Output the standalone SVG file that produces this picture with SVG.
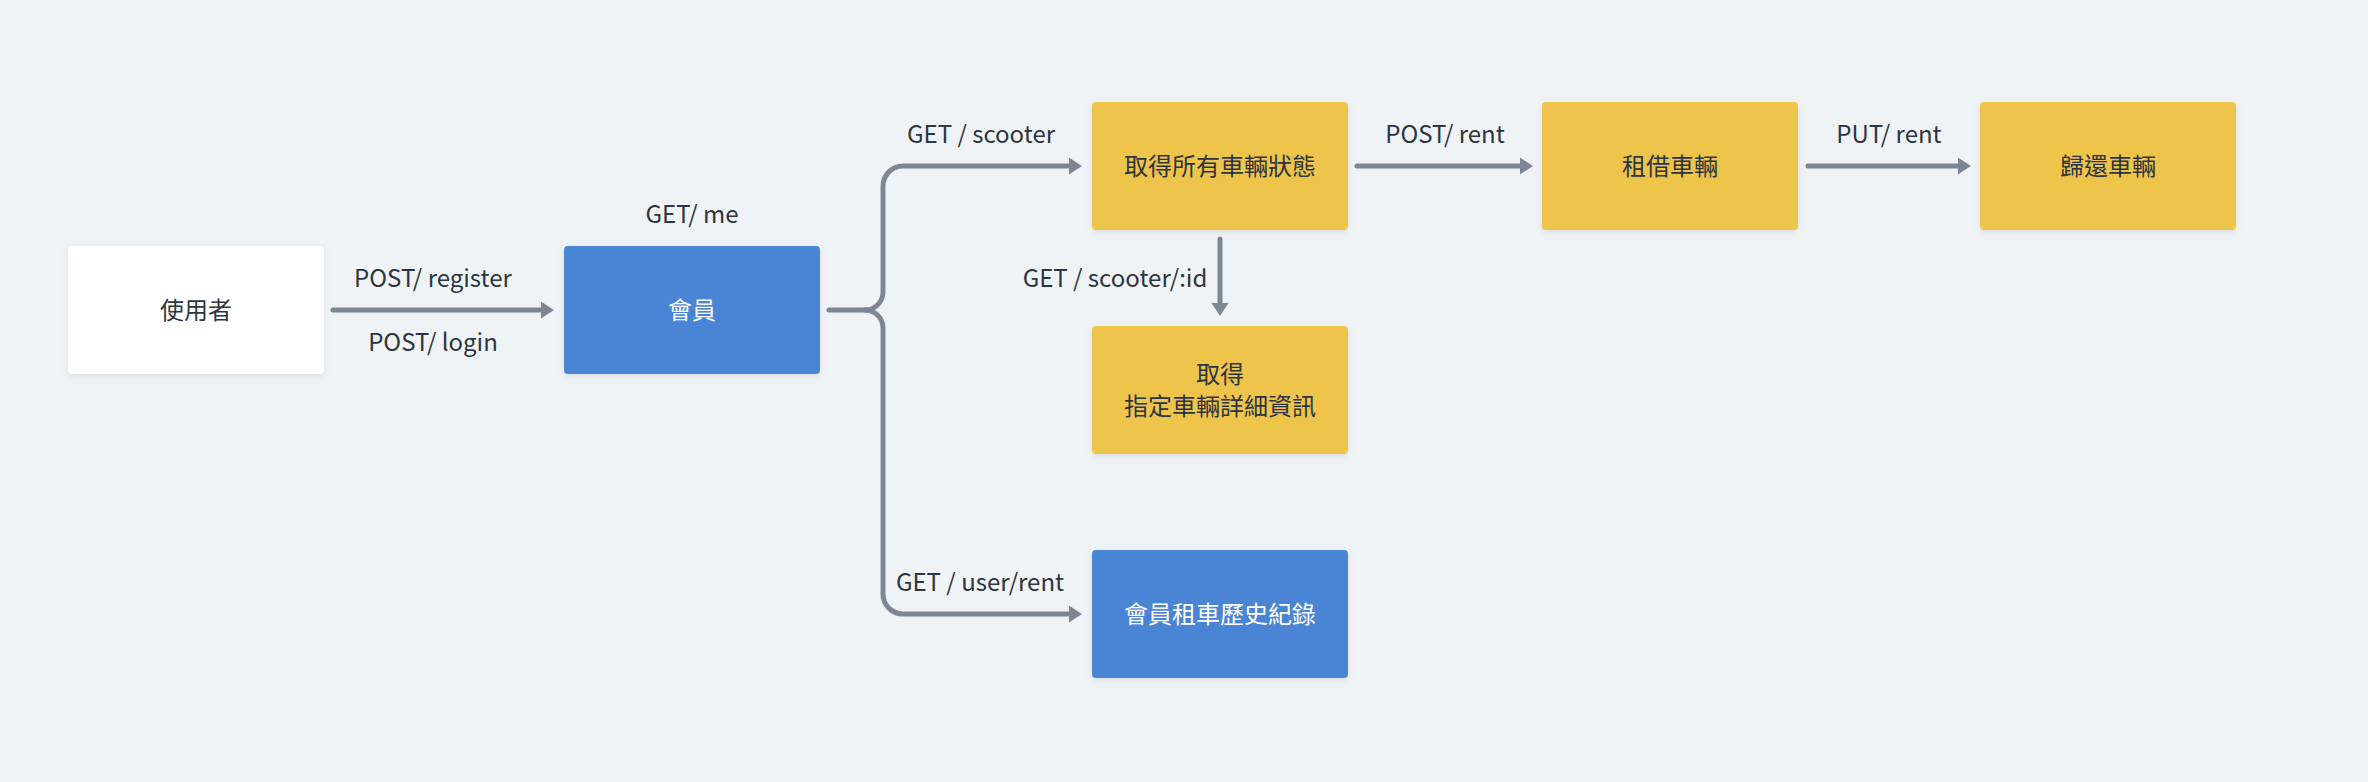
<svg xmlns="http://www.w3.org/2000/svg" width="2368" height="782" viewBox="0 0 2368 782">
  <style>
    .node { stroke: none; }
    .white { fill: #ffffff; }
    .blue { fill: #4885d4; }
    .yellow { fill: #efc44c; }
    .t { font-family: "Noto Sans CJK TC", "Noto Sans", sans-serif; font-size: 24px; text-anchor: middle; fill: #2d3541; }
    .tw { fill: #ffffff; }
    .lbl { font-family: "Noto Sans CJK TC", "Noto Sans", sans-serif; font-size: 24px; text-anchor: middle; fill: #2d3541; }
    .conn { fill: none; stroke: #7d8794; stroke-width: 5; stroke-linecap: round; stroke-linejoin: round; }
  </style>
  <defs>
    <filter id="sh" x="-10%" y="-10%" width="120%" height="130%">
      <feDropShadow dx="0" dy="2" stdDeviation="3" flood-color="#5a6a80" flood-opacity="0.15"/>
    </filter>
    <marker id="ah" markerUnits="userSpaceOnUse" markerWidth="16" markerHeight="18" refX="2" refY="8.5" orient="auto">
      <path d="M0,0 L13,8.5 L0,17 z" fill="#7d8794"/>
    </marker>
  </defs>
  <rect x="0" y="0" width="2368" height="782" fill="#f0f3f6"/>

  <g id="connectors">
    <path class="conn" d="M333,310 H543" marker-end="url(#ah)"/>
    <path class="conn" d="M829,310 H865"/>
    <path class="conn" d="M865,310 A18 18 0 0 0 883,292 V186 A20 20 0 0 1 903,166 H1071" marker-end="url(#ah)"/>
    <path class="conn" d="M865,310 A18 18 0 0 1 883,328 V594 A20 20 0 0 0 903,614 H1071" marker-end="url(#ah)"/>
    <path class="conn" d="M1357,166 H1522" marker-end="url(#ah)"/>
    <path class="conn" d="M1808,166 H1960" marker-end="url(#ah)"/>
    <path class="conn" d="M1220,239 V305" marker-end="url(#ah)"/>
    <text class="lbl" x="433" y="287">POST/ register</text>
    <text class="lbl" x="433" y="351">POST/ login</text>
    <text class="lbl" x="692" y="223">GET/ me</text>
    <text class="lbl" x="981" y="143">GET / scooter</text>
    <text class="lbl" x="1115" y="287">GET / scooter/:id</text>
    <text class="lbl" x="980" y="591">GET / user/rent</text>
    <text class="lbl" x="1445" y="143">POST/ rent</text>
    <text class="lbl" x="1889" y="143">PUT/ rent</text>
  </g>

  <g id="user">
    <rect class="node white" x="68" y="246" width="256" height="128" rx="4" filter="url(#sh)"/>
    <text class="t" x="196" y="319">使用者</text>
  </g>
  <g id="member">
    <rect class="node blue" x="564" y="246" width="256" height="128" rx="4" filter="url(#sh)"/>
    <text class="t tw" x="692" y="319">會員</text>
  </g>
  <g id="all-scooters">
    <rect class="node yellow" x="1092" y="102" width="256" height="128" rx="4" filter="url(#sh)"/>
    <text class="t" x="1220" y="175">取得所有車輛狀態</text>
  </g>
  <g id="scooter-detail">
    <rect class="node yellow" x="1092" y="326" width="256" height="128" rx="4" filter="url(#sh)"/>
    <text class="t" x="1220" y="383">取得</text>
    <text class="t" x="1220" y="415">指定車輛詳細資訊</text>
  </g>
  <g id="rent">
    <rect class="node yellow" x="1542" y="102" width="256" height="128" rx="4" filter="url(#sh)"/>
    <text class="t" x="1670" y="175">租借車輛</text>
  </g>
  <g id="return">
    <rect class="node yellow" x="1980" y="102" width="256" height="128" rx="4" filter="url(#sh)"/>
    <text class="t" x="2108" y="175">歸還車輛</text>
  </g>
  <g id="history">
    <rect class="node blue" x="1092" y="550" width="256" height="128" rx="4" filter="url(#sh)"/>
    <text class="t tw" x="1220" y="623">會員租車歷史紀錄</text>
  </g>
</svg>
